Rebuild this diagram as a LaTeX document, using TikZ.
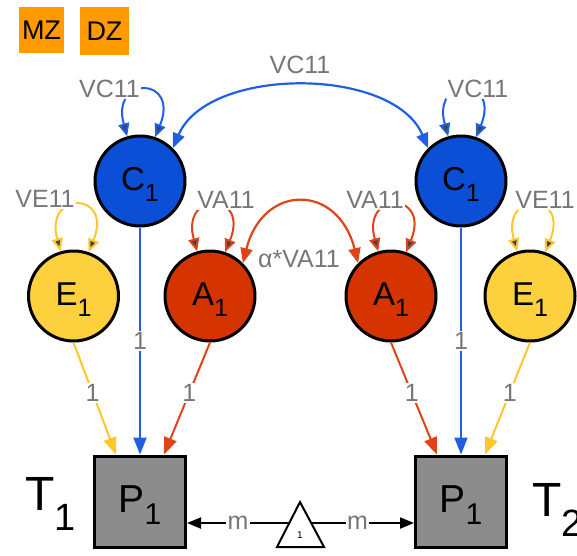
\documentclass[tikz,border=0pt]{standalone}
\usepackage{fontspec}
\setmainfont{Liberation Sans}
\usetikzlibrary{arrows.meta,calc}

\definecolor{cfill}{HTML}{0A4FD6}
\definecolor{cline}{HTML}{1E5FE4}
\definecolor{efill}{HTML}{FDD03E}
\definecolor{eline}{HTML}{FFC62E}
\definecolor{afill}{HTML}{D53300}
\definecolor{aline}{HTML}{DE4418}
\definecolor{boxgray}{HTML}{8C8C8C}
\definecolor{labgray}{HTML}{777777}
\definecolor{tipgray}{HTML}{444444}
\definecolor{zygfill}{HTML}{FF9A00}

% subscripts for latent, manifest and twin labels
\newcommand\latsub[1]{\raisebox{-11pt}{\fontsize{25}{25}\selectfont #1}}
\newcommand\mansub[1]{\raisebox{-12pt}{\fontsize{30}{30}\selectfont #1}}
\newcommand\twinsub[1]{\raisebox{-20pt}{\fontsize{38}{38}\selectfont #1}}

\begin{document}
\begin{tikzpicture}[x=1pt,y=-1pt,
  latent/.style={circle, draw=black, line width=3pt, minimum size=90pt,
    inner sep=0pt, text depth=4pt, font=\fontsize{33}{33}\selectfont},
  manifest/.style={rectangle, draw=black, line width=3pt, fill=boxgray,
    minimum size=91pt, inner sep=0pt, text depth=4pt,
    font=\fontsize{39}{39}\selectfont},
  zygbox/.style={rectangle, fill=zygfill, inner sep=0pt,
    font=\fontsize{27}{27}\selectfont},
  lab/.style={text=labgray, font=\fontsize{25}{25}\selectfont,
    fill=white, inner sep=1.5pt},
  plainlab/.style={text=labgray, font=\fontsize{25}{25}\selectfont, inner sep=1pt},
  twinlab/.style={font=\fontsize{48}{48}\selectfont, inner sep=0pt, anchor=base west},
  loading/.style={line width=2pt, -{Triangle[length=17pt,width=13pt]}},
  meanpath/.style={line width=2pt, black, -{Triangle[length=14pt,width=11pt]}},
  varloop/.style={line width=2pt,
    {Triangle[length=13pt,width=11pt,fill=tipgray]}-{Triangle[length=13pt,width=11pt,fill=tipgray]}},
  covarc/.style={line width=2.2pt,
    {Triangle[length=15pt,width=12pt]}-{Triangle[length=15pt,width=12pt]}}
]
\useasboundingbox (0,0) rectangle (577,555);

% zygosity tags
\node[zygbox, minimum width=45pt, minimum height=46pt] (mz) at (41.5,30) {MZ};
\node[zygbox, minimum width=49pt, minimum height=48pt] (dz) at (104.5,31) {DZ};

% latent factors, twin 1
\node[latent, fill=cfill] (C1L) at (140,181) {C\latsub{1}};
\node[latent, fill=efill] (E1L) at (73.5,296) {E\latsub{1}};
\node[latent, fill=afill] (A1L) at (210,296) {A\latsub{1}};
% latent factors, twin 2
\node[latent, fill=cfill] (C1R) at (461,181) {C\latsub{1}};
\node[latent, fill=afill] (A1R) at (391,296) {A\latsub{1}};
\node[latent, fill=efill] (E1R) at (530,296) {E\latsub{1}};

% observed phenotypes
\node[manifest] (P1L) at (140,501.5) {P\mansub{1}};
\node[manifest] (P1R) at (461,501.5) {P\mansub{1}};
\node[twinlab] (T1) at (25,510) {T\twinsub{1}};
\node[twinlab] (T2) at (532,516) {T\twinsub{2}};

% variance loops
\draw[varloop, cline] (C1L.106) .. controls +(-17,-61) and +(25,-61) .. (C1L.71);
\draw[varloop, eline] (E1L.106) .. controls +(-17,-61) and +(25,-61) .. (E1L.71);
\draw[varloop, aline] (A1L.106) .. controls +(-17,-61) and +(25,-61) .. (A1L.71);
\draw[varloop, cline] (C1R.106) .. controls +(-17,-61) and +(25,-61) .. (C1R.71);
\draw[varloop, aline] (A1R.106) .. controls +(-17,-61) and +(25,-61) .. (A1R.71);
\draw[varloop, eline] (E1R.106) .. controls +(-17,-61) and +(25,-61) .. (E1R.71);
\node[lab] (vcL) at (109.5,89) {VC11};
\node[lab] (veL) at (45,199) {VE11};
\node[lab] (vaL) at (226,199.5) {VA11};
\node[lab] (vaR) at (375,200) {VA11};
\node[lab] (vcR) at (478,89) {VC11};
\node[lab] (veR) at (545,200) {VE11};

% cross-twin covariances
\draw[covarc, cline] (C1L.45) .. controls +(35,-82) and +(-35,-82) .. (C1R.135);
\node[plainlab] (vcTop) at (300,65) {VC11};
\draw[covarc, aline] (A1L.45) .. controls +(20,-80) and +(-20,-80) .. (A1R.135);
\node[plainlab] (alphaVA) at (299,259) {α*VA11};

% factor loadings
\draw[loading, eline] (E1L.south) -- node[lab, pos=0.45] {1} ($(P1L.north)+(-24,0)$);
\draw[loading, cline] (C1L.south) -- node[lab] {1} (P1L.north);
\draw[loading, aline] (A1L.south) -- node[lab, pos=0.45] {1} ($(P1L.north)+(24,0)$);
\draw[loading, aline] (A1R.south) -- node[lab, pos=0.45] {1} ($(P1R.north)+(-24,0)$);
\draw[loading, cline] (C1R.south) -- node[lab] {1} (P1R.north);
\draw[loading, eline] (E1R.south) -- node[lab, pos=0.45] {1} ($(P1R.north)+(24,0)$);

% mean triangle
\coordinate (triTop) at (300,502);
\coordinate (triBL) at (277,547);
\coordinate (triBR) at (324,547);
\draw[line width=2pt, line join=miter] (triTop) -- (triBR) -- (triBL) -- cycle;
\node[font=\fontsize{10}{10}\selectfont, inner sep=0pt] (triOne) at (300,535) {1};
\coordinate (triL) at ($(triTop)!0.467!(triBL)$);
\coordinate (triR) at ($(triTop)!0.467!(triBR)$);
\draw[meanpath] (triL) -- node[lab] {m} (triL -| P1L.east);
\draw[meanpath] (triR) -- node[lab, pos=0.45] {m} (triR -| P1R.west);
\end{tikzpicture}
\end{document}
